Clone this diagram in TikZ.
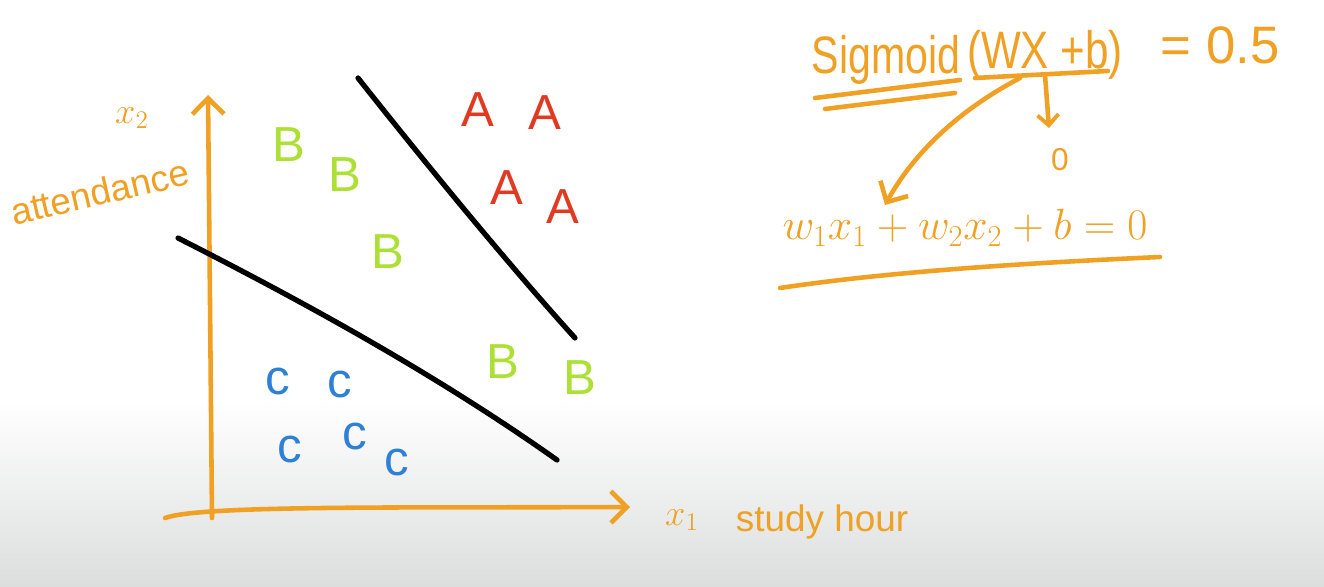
\documentclass[tikz,border=0pt]{standalone}
\usepackage{fontspec}
\setmainfont{Liberation Sans}
\usetikzlibrary{arrows.meta}
\definecolor{pen}{HTML}{F0A022}
\definecolor{redpen}{HTML}{E03A22}
\definecolor{greenpen}{HTML}{ACE034}
\definecolor{bluepen}{HTML}{2E80D6}
\definecolor{bggray}{HTML}{DCDEDD}
\tikzset{
  ink/.style={line width=2.6pt, line cap=round, line join=round},
  orangeink/.style={ink, draw=pen},
  blackink/.style={ink, draw=black, line width=3pt},
  vhead/.style={-{Straight Barb[length=9pt,width=18pt,line width=2.6pt]}},
  ptA/.style={text=redpen, font=\fontsize{28}{30}\selectfont},
  ptB/.style={text=greenpen, font=\fontsize{28}{30}\selectfont},
  ptC/.style={text=bluepen, font=\fontsize{28}{30}\selectfont},
  lbl/.style={text=pen, font=\fontsize{21}{23}\selectfont},
  eq/.style={text=pen, font=\fontsize{30}{32}\selectfont, inner sep=0pt},
}
\begin{document}
\begin{tikzpicture}[x=0.02cm,y=-0.02cm]
\useasboundingbox (0,0) rectangle (1324,587);
\fill[white] (0,0) rectangle (1324,400);
\shade[top color=white, bottom color=bggray] (0,400) rectangle (1324,587);

% axes
\coordinate (yb) at (212,518);
\coordinate (yt) at (208,95);
\coordinate (xl) at (165,518);
\coordinate (xr) at (630,507);
\draw[orangeink, vhead] (yb) .. controls (210,300) .. (yt);
\draw[orangeink, vhead] (xl) .. controls (200,505) and (400,508) .. (xr);

\node[lbl] (x2) at (132,118) {$x_2$};
\node[lbl, rotate=13, inner sep=0pt] (att) at (100,192) {attendance};
\node[lbl] (x1) at (682,520) {$x_1$};
\node[lbl] (sh) at (822,522) {study hour};

% separating lines
\coordinate (l1a) at (358,78);
\coordinate (l1b) at (575,338);
\coordinate (l2a) at (178,238);
\coordinate (l2b) at (557,460);
\draw[blackink] (l1a) .. controls (415,150) and (500,255) .. (l1b);
\draw[blackink] (l2a) .. controls (290,295) and (430,370) .. (l2b);

% points
\node[ptA] (a1) at (478,110) {A};
\node[ptA] (a2) at (545,113) {A};
\node[ptA] (a3) at (507,188) {A};
\node[ptA] (a4) at (563,207) {A};
\node[ptB] (b1) at (289,145) {B};
\node[ptB] (b2) at (345,175) {B};
\node[ptB] (b3) at (388,252) {B};
\node[ptB] (b4) at (503,362) {B};
\node[ptB] (b5) at (580,378) {B};
\node[ptC] (c1) at (278,382) {c};
\node[ptC] (c2) at (340,385) {c};
\node[ptC] (c3) at (290,450) {c};
\node[ptC] (c4) at (355,437) {c};
\node[ptC] (c5) at (397,463) {c};

% equations
\node[eq, xscale=0.78] (sig) at (886,60) {Sigmoid};
\node[eq, xscale=0.8] (wxb) at (1045,55) {(WX +b)};
\node[eq] (half) at (1220,45) {= 0.5};
\draw[orangeink] (815,98) -- (960,80);
\draw[orangeink] (825,109) -- (955,93);
\draw[orangeink] (975,78) -- (1108,71);
\coordinate (arrS) at (1020,78);
\coordinate (arrE) at (885,205);
\draw[orangeink, vhead] (arrS) .. controls (950,115) and (910,160) .. (arrE);
\coordinate (zS) at (1045,75);
\node[eq, font=\fontsize{18}{20}\selectfont] (zero) at (1060,160) {0};
\draw[orangeink, -{Straight Barb[length=6pt,width=12pt,line width=2.2pt]}] (zS) -- (1049,128);
\node[eq, font=\fontsize{26}{28}\selectfont] (lin) at (965,228) {$w_1x_1 + w_2x_2 + b = 0$};
\draw[orangeink] (780,288) .. controls (900,270) and (1050,262) .. (1160,257);
\end{tikzpicture}
\end{document}
